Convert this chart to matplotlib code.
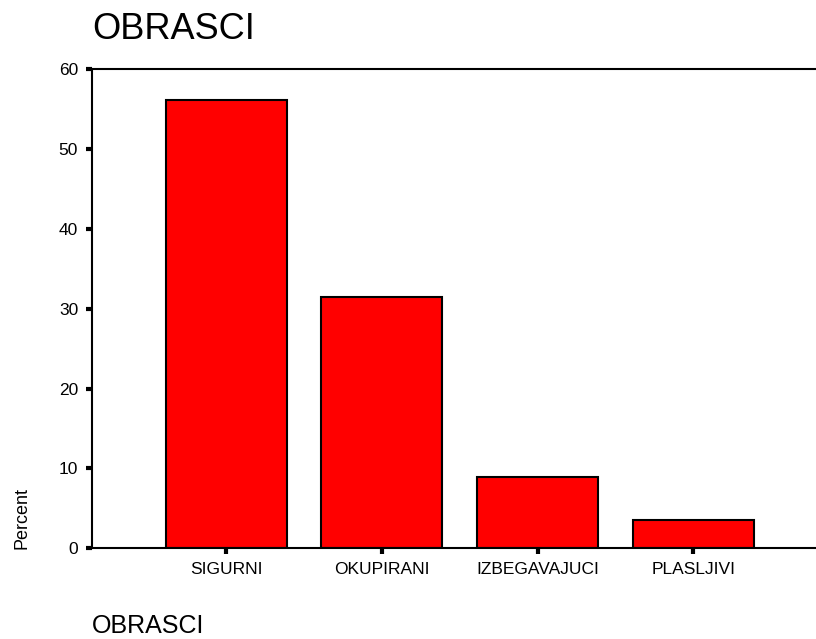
import matplotlib
matplotlib.use("Agg")
import matplotlib.pyplot as plt

plt.rcParams['font.family'] = ['Liberation Sans', 'DejaVu Sans']

# data
categories = ["SIGURNI", "OKUPIRANI", "IZBEGAVAJUCI", "PLASLJIVI"]
percent = [56.2, 31.5, 8.9, 3.5]
y_ticks = [0, 10, 20, 30, 40, 50, 60]

fig = plt.figure(figsize=(8.16, 6.39), dpi=100)
ax = fig.add_axes([92 / 816, 90.7 / 639, 1 - 92 / 816, 478.9 / 639])

x = range(len(categories))
ax.bar(x, percent, width=0.777, color="#ff0000", edgecolor="black", linewidth=1.5)

ax.set_xlim(-0.862, 3.788)
ax.set_ylim(0, 60)
ax.set_xticks(list(x))
ax.set_xticklabels(categories)
ax.set_yticks(y_ticks)

ax.spines['right'].set_visible(False)
for s in ['left', 'bottom', 'top']:
    ax.spines[s].set_linewidth(1.5)
ax.tick_params(axis='both', direction='out', length=4, width=3, labelsize=12.5, pad=6)

# title, axis labels in SPSS positions
fig.text(92 / 816, 1 - 39 / 639, "OBRASCI", fontsize=26, ha='left', va='baseline')
fig.text(92 / 816, 1 - 633 / 639, "OBRASCI", fontsize=18, ha='left', va='baseline')
fig.text(22 / 816, 1 - 549 / 639, "Percent", fontsize=13, rotation=90,
         ha='center', va='bottom')

fig.savefig("out.png", dpi=100)
